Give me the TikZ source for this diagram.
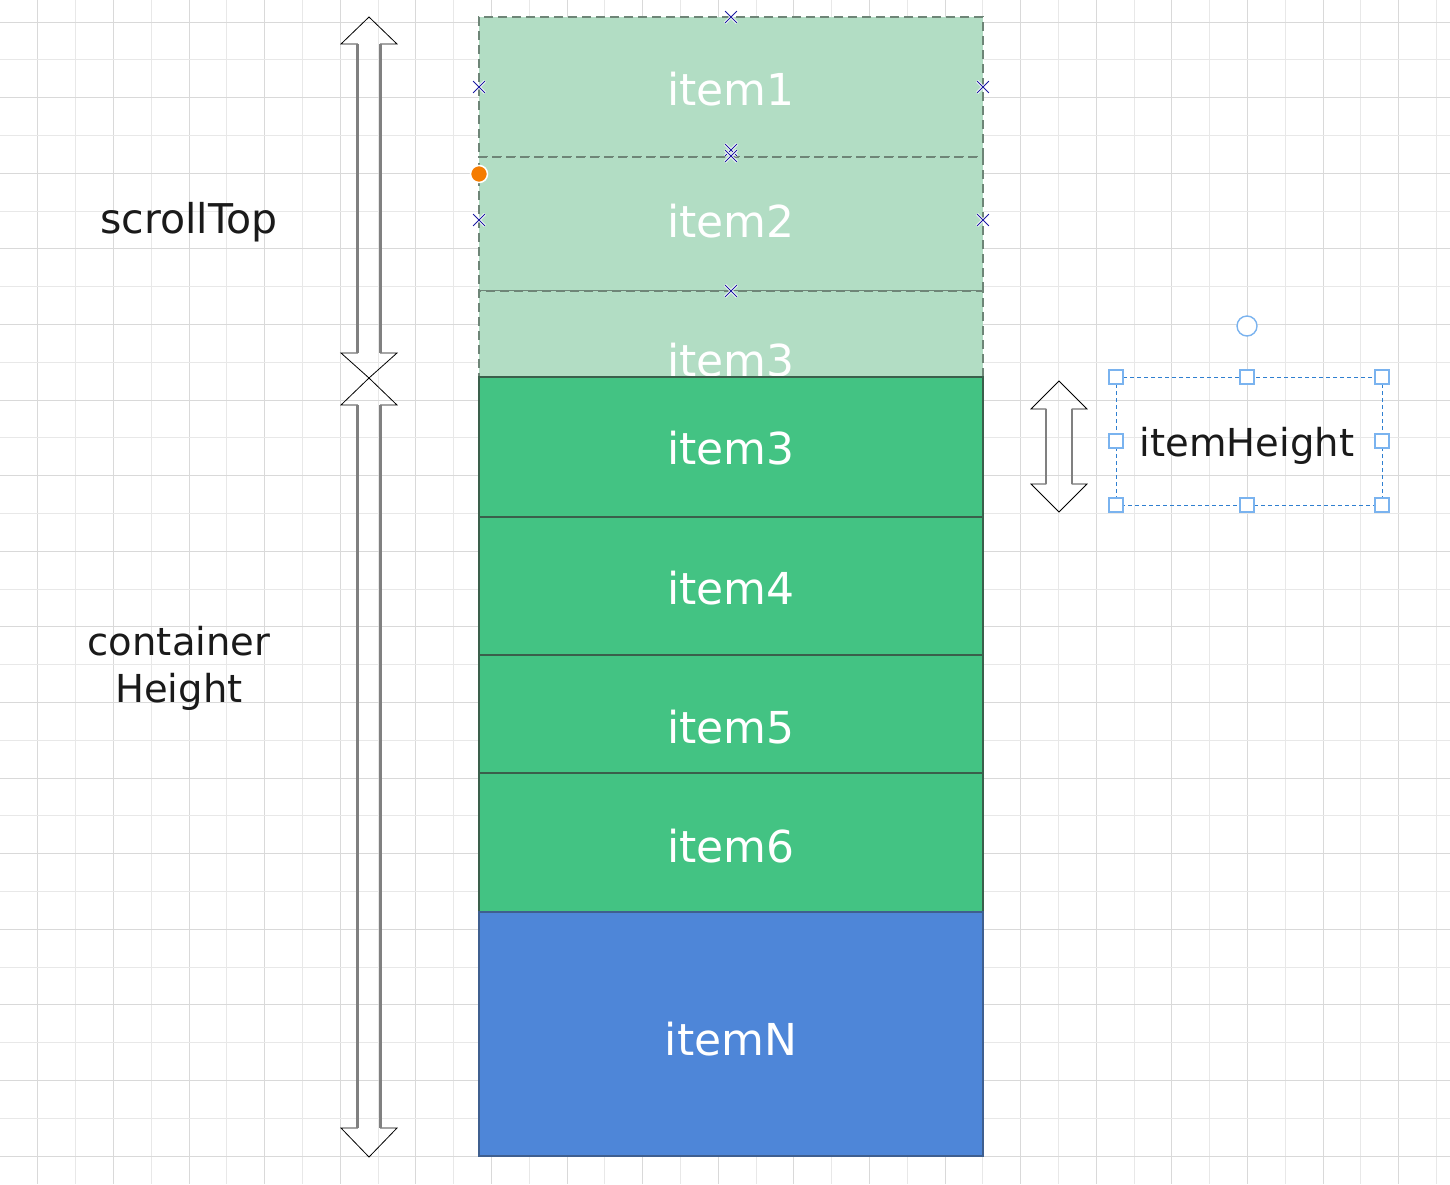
\documentclass[tikz,border=0pt]{standalone}
\usepackage{fontspec}
\setmainfont{DejaVu Sans}
\usetikzlibrary{shapes.misc}
\definecolor{lgreen}{HTML}{B2DDC4}
\definecolor{dgreen}{HTML}{43C383}
\definecolor{nblue}{HTML}{4E86D8}
\definecolor{lborder}{HTML}{6E8577}
\definecolor{dborder}{HTML}{3A5F4B}
\definecolor{bborder}{HTML}{3F5F8F}
\definecolor{gridA}{HTML}{D9D9D9}
\definecolor{gridB}{HTML}{E8E8E8}
\definecolor{selblue}{HTML}{2F7FD0}
\definecolor{handleblue}{HTML}{7AB3EF}
\definecolor{markblue}{HTML}{1A1AA0}
\definecolor{dotorange}{HTML}{F57C00}
\definecolor{labelblack}{HTML}{1A1A1A}
\tikzset{
  lightbox/.style={draw=lborder, dash pattern=on 9pt off 5pt, line width=1.6pt, fill=lgreen, minimum width=504pt, inner sep=0pt},
  darkbox/.style={draw=dborder, line width=1.1pt, fill=dgreen, minimum width=504pt, inner sep=0pt},
  bluebox/.style={draw=bborder, line width=1.1pt, fill=nblue, minimum width=504pt, inner sep=0pt},
  itemtext/.style={text=white, font=\fontsize{44}{52}\selectfont, anchor=base, inner sep=0pt},
  blacklabel/.style={text=labelblack, font=\fontsize{38.5}{47}\selectfont, inner sep=0pt, align=center},
  arrowshape/.style={draw=black, line width=0.8pt},
  shaftline/.style={draw=black!50, line width=2.2pt},
  xmark/.style={cross out, draw=markblue, line width=0.8pt, minimum size=11pt, inner sep=0pt, preaction={draw=white, line width=2.6pt}},
  handle/.style={draw=handleblue, line width=1.4pt, fill=white, minimum size=14pt, inner sep=0pt, rectangle},
  selrect/.style={draw=selblue, line width=1pt, dash pattern=on 4pt off 3pt},
}
\begin{document}
\begin{tikzpicture}[x=1pt, y=-1pt]
\useasboundingbox (0,0) rectangle (1450,1184);
\fill[white] (0,0) rectangle (1450,1184);
% grid
\foreach \k in {1,...,38} {
  \pgfmathsetmacro{\gx}{37.8*\k}
  \ifodd\k \draw[gridA, line width=1pt] (\gx,0) -- (\gx,1184);
  \else \draw[gridB, line width=1pt] (\gx,0) -- (\gx,1184); \fi
}
\foreach \k in {0,...,30} {
  \pgfmathsetmacro{\gy}{22+37.8*\k}
  \ifodd\k \draw[gridB, line width=1pt] (0,\gy) -- (1450,\gy);
  \else \draw[gridA, line width=1pt] (0,\gy) -- (1450,\gy); \fi
}

% light (scrolled out) items
\node[lightbox, minimum height=140pt] (l1) at (731,87) {};
\node[lightbox, minimum height=134pt] (l2) at (731,224) {};
\node[lightbox, minimum height=142pt] (l3) at (731,362) {};
\node[itemtext] (t1) at (731,105) {item1};
\node[itemtext] (t2) at (731,237) {item2};
\node[itemtext] (t3l) at (731,376) {item3};

% visible items
\node[darkbox, minimum height=140pt] (d3) at (731,447) {};
\node[itemtext] (t3) at (731,464) {item3};
\node[darkbox, minimum height=140pt] (d4) at (731,587) {};
\node[itemtext] (t4) at (731,604) {item4};
\node[darkbox, minimum height=140pt] (d5) at (731,725) {};
\node[itemtext] (t5) at (731,743) {item5};
\node[darkbox, minimum height=139pt] (d6) at (731,842.5) {};
\node[itemtext] (t6) at (731,862) {item6};
\node[bluebox, minimum height=244pt] (dn) at (731,1034) {};
\node[itemtext] (tn) at (731,1055) {itemN};

% markers
\node[xmark] (m1) at (731,17) {};
\node[xmark] (m2) at (479,87) {};
\node[xmark] (m3) at (983,87) {};
\node[xmark] (m4) at (731,150) {};
\node[xmark] (m5) at (731,156) {};
\node[xmark] (m6) at (479,220) {};
\node[xmark] (m7) at (983,220) {};
\node[xmark] (m8) at (731,291) {};
\node[circle, fill=dotorange, draw=white, line width=1.5pt, minimum size=17pt, inner sep=0pt] (dot) at (479,174) {};

% scrollTop double arrow
\draw[arrowshape] (369,17) -- (397,44) -- (380.5,44) -- (380.5,353) -- (397,353) -- (369,378)
  -- (341,353) -- (357.5,353) -- (357.5,44) -- (341,44) -- cycle;
\draw[shaftline] (357.5,44) -- (357.5,353) (380.5,44) -- (380.5,353);
% container height double arrow
\draw[arrowshape] (369,378) -- (397,405) -- (380.5,405) -- (380.5,1128) -- (397,1128) -- (369,1157)
  -- (341,1128) -- (357.5,1128) -- (357.5,405) -- (341,405) -- cycle;
\draw[shaftline] (357.5,405) -- (357.5,1128) (380.5,405) -- (380.5,1128);
% item height double arrow
\draw[arrowshape] (1059,381) -- (1087,409) -- (1072,409) -- (1072,484) -- (1087,484) -- (1059,512)
  -- (1031,484) -- (1046,484) -- (1046,409) -- (1031,409) -- cycle;
\draw[shaftline] (1046,409) -- (1046,484) (1072,409) -- (1072,484);

% labels
\node[blacklabel, anchor=base, font=\fontsize{41}{47}\selectfont] (st) at (189,233) {scrollTop};
\node[blacklabel, anchor=base] (ch1) at (179,655) {container};
\node[blacklabel, anchor=base] (ch2) at (179,702) {Height};

% selected itemHeight label
\draw[selrect] (1116,377) rectangle (1382,505);
\node[blacklabel, anchor=base] (ih) at (1247,456) {itemHeight};
\node[handle] (h1) at (1116,377) {};
\node[handle] (h2) at (1247,377) {};
\node[handle] (h3) at (1382,377) {};
\node[handle] (h4) at (1116,441) {};
\node[handle] (h5) at (1382,441) {};
\node[handle] (h6) at (1116,505) {};
\node[handle] (h7) at (1247,505) {};
\node[handle] (h8) at (1382,505) {};
\node[circle, draw=handleblue, line width=1.4pt, fill=white, minimum size=20pt, inner sep=0pt] (rot) at (1247,326) {};
\end{tikzpicture}
\end{document}
